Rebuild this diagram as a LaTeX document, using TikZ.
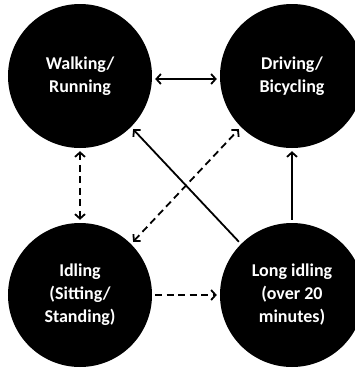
\documentclass[tikz,border=0pt]{standalone}
\usepackage{fontspec}
\setmainfont{Carlito}
\usetikzlibrary{arrows.meta}
\begin{document}
\begin{tikzpicture}[x=1pt,y=-1pt,
  state/.style={circle,fill=black,minimum size=144pt,inner sep=0pt,text=white,align=center,
    font=\fontsize{18}{23}\selectfont\bfseries},
  tip/.tip={Straight Barb[length=4.5pt,width=10pt,line width=1.8pt]},
  conn/.style={line width=1.8pt,-tip,shorten <=3pt,shorten >=3pt},
  dconn/.style={conn,dash pattern=on 7pt off 4.5pt},
  both/.style={tip-tip}
]
\useasboundingbox (0,0) rectangle (355,368);
\node[state] (W) at (80,76) {Walking/\\Running};
\node[state] (D) at (292,76) {Driving/\\Bicycling};
\node[state] (I) at (80,295) {Idling\\(Sitting/\\Standing)};
\node[state] (L) at (292,295) {Long idling\\(over 20\\minutes)};
\draw[conn,both] ([yshift=-3pt]W.east) -- ([yshift=-3pt]D.west);
\draw[dconn,both] (W.south) -- (I.north);
\draw[conn] (L.north) -- (D.south);
\draw[conn] (L.135) -- (W.-45);
\draw[dconn,both] (I.45) -- (D.-135);
\draw[dconn] (I.east) -- (L.west);
\end{tikzpicture}
\end{document}
